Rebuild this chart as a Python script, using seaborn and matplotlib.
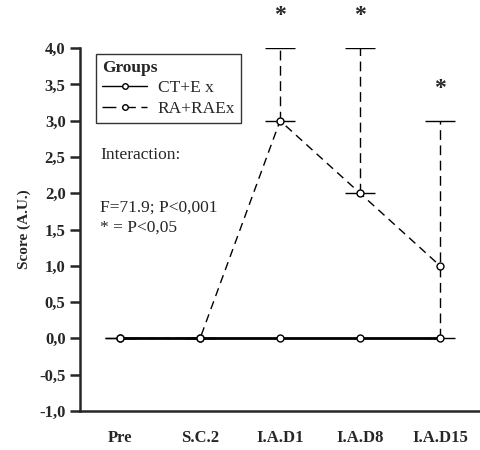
import numpy as np
import pandas as pd
import matplotlib
matplotlib.use("Agg")
import matplotlib.pyplot as plt
import seaborn as sns
from matplotlib.lines import Line2D

sns.set_style("ticks")
plt.rcParams.update(
    {
        "font.family": ["Liberation Serif", "DejaVu Serif"],
        "font.size": 11,
        "axes.linewidth": 1.8,
    }
)

# data
moments = ["Pre", "S.C.2", "I.A.D1", "I.A.D8", "I.A.D15"]
ct_score = [0, 0, 0, 0, 0]
ra_score = [0, 0, 3, 2, 1]
ra_err_low = [0, 0, 0, 0, 1]
ra_err_high = [0, 0, 1, 2, 2]
star_idx = [2, 3, 4]
star_y = [4.45, 4.45, 3.45]
y_ticks = [-1.0, -0.5, 0.0, 0.5, 1.0, 1.5, 2.0, 2.5, 3.0, 3.5, 4.0]

df = pd.DataFrame(
    {
        "moment": moments * 2,
        "x": list(range(len(moments))) * 2,
        "score": ct_score + ra_score,
        "group": ["CT+E x"] * len(moments) + ["RA+RAEx"] * len(moments),
    }
)


def main():
    fig = plt.figure(figsize=(4.8, 4.5), dpi=100)
    ax = fig.add_axes([0.167, 0.087, 0.833, 0.806])

    x = np.arange(len(moments))

    # error bars of RA+RAEx (dashed, upward)
    eb = ax.errorbar(
        x, ra_score, yerr=[ra_err_low, ra_err_high], fmt="none",
        ecolor="black", elinewidth=1.0, capsize=11, capthick=1.0, zorder=2,
    )
    for lc in eb[2]:
        lc.set_linestyle((0, (7, 4)))

    sns.lineplot(
        data=df[df["group"] == "RA+RAEx"], x="x", y="score", ax=ax,
        color="black", lw=1.0, linestyle=(0, (6, 4)), marker="o",
        markersize=5, markerfacecolor="white", markeredgecolor="black",
        markeredgewidth=1.0, zorder=3, legend=False,
    )
    sns.lineplot(
        data=df[df["group"] == "CT+E x"], x="x", y="score", ax=ax,
        color="black", lw=2.0, marker="o",
        markersize=5, markerfacecolor="white", markeredgecolor="black",
        markeredgewidth=1.0, zorder=4, legend=False,
    )

    for i, yy in zip(star_idx, star_y):
        ax.text(i, yy, "*", ha="center", va="center", fontsize=17,
                fontweight="bold", clip_on=False)

    ax.text(-0.25, 2.53, "Interaction:", fontsize=12.5, va="center")
    ax.text(-0.25, 1.80, "F=71.9; P<0,001", fontsize=12.5, va="center")
    ax.text(-0.25, 1.52, "* = P<0,05", fontsize=12.5, va="center")

    handles = [
        Line2D([], [], color="black", lw=1.0, marker="o", markersize=4,
               markerfacecolor="white", markevery=[0, -1]),
        Line2D([], [], color="black", lw=1.0, ls=(0, (10, 4)), marker="o",
               markersize=4, markerfacecolor="white", markevery=[0, -1]),
    ]
    leg = ax.legend(
        handles, ["CT+E x", "RA+RAEx"], title="Groups", loc="upper left",
        bbox_to_anchor=(0.018, 1.008), frameon=True, fancybox=False,
        edgecolor="black", fontsize=12.5, title_fontsize=12.5,
        handlelength=2.6, handletextpad=0.6,
        borderpad=0.35, labelspacing=0.25, alignment="left",
    )
    leg.get_title().set_fontweight("bold")
    leg.get_frame().set_linewidth(1.0)

    ax.set_xlim(-0.5, 4.5)
    ax.set_ylim(-1.0, 4.0)
    ax.set_xticks(x)
    ax.set_xticklabels(moments, fontweight="bold")
    ax.set_yticks(y_ticks)
    ax.set_yticklabels([f"{v:.1f}".replace(".", ",") for v in y_ticks],
                       fontweight="bold")
    ax.tick_params(axis="y", length=7, width=1.8, labelsize=12)
    ax.tick_params(axis="x", length=0, pad=14, labelsize=12)
    ax.set_xlabel("")
    ax.set_ylabel("Score (A.U.)", fontweight="bold", fontsize=11, labelpad=6)
    sns.despine(ax=ax)

    fig.savefig("out.png", dpi=100)
    plt.close(fig)


if __name__ == "__main__":
    main()
